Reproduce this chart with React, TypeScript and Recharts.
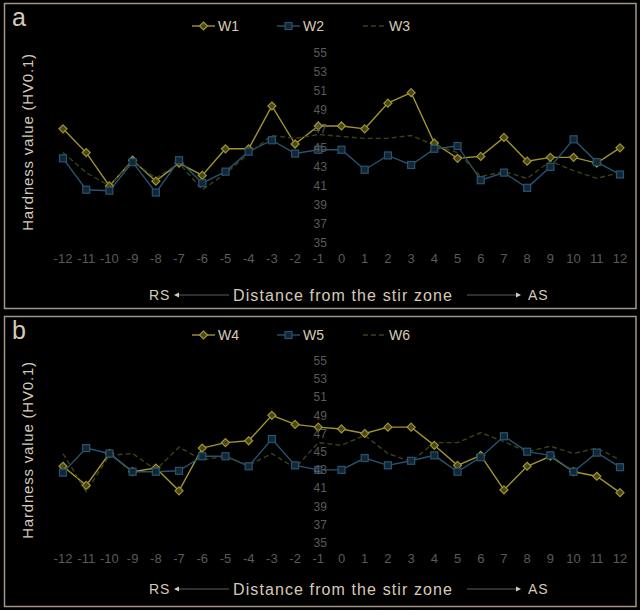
import React from 'react';
import { LineChart, Line, XAxis, YAxis, Legend } from 'recharts';

const positions = [-12, -11, -10, -9, -8, -7, -6, -5, -4, -3, -2, -1, 0, 1, 2, 3, 4, 5, 6, 7, 8, 9, 10, 11, 12];
const yTicks = [35, 37, 39, 41, 43, 45, 47, 49, 51, 53, 55];

const w1 = [47.0, 44.5, 41.0, 43.7, 41.5, 43.4, 42.1, 44.9, 44.9, 49.4, 45.4, 47.3, 47.3, 47.0, 49.7, 50.8, 45.5, 43.9, 44.1, 46.1, 43.6, 44.0, 44.0, 43.4, 45.0];
const w2 = [43.9, 40.6, 40.5, 43.5, 40.3, 43.7, 41.3, 42.5, 44.6, 45.8, 44.4, 44.8, 44.8, 42.7, 44.2, 43.2, 44.9, 45.2, 41.6, 42.4, 40.8, 43.0, 45.9, 43.5, 42.2];
const w3 = [44.5, 42.4, 41.0, 43.6, 41.8, 43.4, 40.6, 42.3, 44.4, 46.3, 46.0, 46.4, 46.2, 46.0, 46.0, 46.3, 45.3, 44.5, 42.0, 42.5, 41.8, 43.6, 42.6, 41.8, 42.4];

const w4 = [43.4, 41.3, 44.8, 42.8, 43.2, 40.7, 45.4, 46.0, 46.2, 49.0, 48.0, 47.7, 47.5, 47.0, 47.7, 47.7, 45.7, 43.5, 44.6, 40.8, 43.4, 44.5, 42.8, 42.3, 40.5];
const w5 = [42.7, 45.4, 44.8, 42.8, 42.8, 42.9, 44.5, 44.5, 43.4, 46.4, 43.5, 43.0, 43.0, 44.3, 43.5, 44.0, 44.6, 42.8, 44.4, 46.7, 45.0, 44.6, 42.8, 44.9, 43.3];
const w6 = [44.8, 40.6, 44.6, 44.8, 43.0, 45.5, 44.1, 44.5, 43.5, 44.8, 43.2, 46.0, 45.7, 46.8, 44.8, 43.9, 46.0, 46.0, 47.1, 46.1, 45.0, 45.6, 44.8, 45.4, 44.1];

const dataA = positions.map((p, i) => ({ pos: p, W1: w1[i], W2: w2[i], W3: w3[i] }));
const dataB = positions.map((p, i) => ({ pos: p, W4: w4[i], W5: w5[i], W6: w6[i] }));

const YELLOW = '#a0952f';
const BLUE = '#28536f';
const DARK = '#37431a';
const TEXT = '#d6cab9';
const TICK = '#5a5a5a';
const FONT = '"Liberation Sans", Arial, sans-serif';

const PLOT_LEFT = 51.4;
const PLOT_RIGHT = 8.4;
const PLOT_W = 640 - PLOT_LEFT - PLOT_RIGHT;
// vertical axis crosses between -1 and 0
const AXIS_X = PLOT_LEFT + PLOT_W * (12 / 25);

const Diamond = (props: any) => {
    const { cx, cy } = props;
    if (cx == null || cy == null) return null;
    return <path d={`M${cx},${cy - 4} L${cx + 4},${cy} L${cx},${cy + 4} L${cx - 4},${cy} Z`} fill="#4a4616" stroke={YELLOW} strokeWidth={1.2} />;
};

const Square = (props: any) => {
    const { cx, cy } = props;
    if (cx == null || cy == null) return null;
    return <rect x={cx - 3.5} y={cy - 3.5} width={7} height={7} fill="#132636" stroke={BLUE} strokeWidth={1.2} />;
};

const XTick = (props: any) => {
    const { x, y, payload } = props;
    return (
        <text x={x} y={y} dy={12} textAnchor="middle" fill={TICK} fontSize={13} fontFamily={FONT}>
            {payload.value}
        </text>
    );
};

const YTick = (props: any) => {
    const { y, payload } = props;
    return (
        <text x={AXIS_X - 3} y={y} dy="0.35em" textAnchor="end" fill={TICK} fontSize={12} fontFamily={FONT}>
            {payload.value}
        </text>
    );
};

const markerFor = (key: string, x: number) => {
    if (key === 'W1' || key === 'W4') {
        return <path d={`M${x},-4 L${x + 4},0 L${x},4 L${x - 4},0 Z`} fill="#4a4616" stroke={YELLOW} strokeWidth={1.2} />;
    }
    if (key === 'W2' || key === 'W5') {
        return <rect x={x - 3.5} y={-3.5} width={7} height={7} fill="#132636" stroke={BLUE} strokeWidth={1.2} />;
    }
    return null;
};

const legendX = [192, 277, 363];

const LegendRow = ({ payload }: any) => (
    <svg width={640} height={20} style={{ display: 'block' }}>
        {(payload || []).map((item: any, i: number) => {
            const x0 = legendX[i];
            const dashed = item.dataKey === 'W3' || item.dataKey === 'W6';
            return (
                <g key={item.dataKey} transform="translate(0,10)">
                    <line x1={x0} x2={x0 + 23} y1={0} y2={0} stroke={item.color} strokeWidth={1.4} strokeDasharray={dashed ? '5 3' : undefined} />
                    <g>{markerFor(item.dataKey, x0 + 11.5)}</g>
                    <text x={x0 + 26} y={0} dy="0.35em" fill={TEXT} fontSize={14} fontFamily={FONT}>
                        {item.value}
                    </text>
                </g>
            );
        })}
    </svg>
);

interface PanelProps {
    data: any[];
    keys: string[];
    height: number;
    plotTop: number;
    plotBottom: number;
    legendTop: number;
}

const Panel: React.FC<PanelProps> = ({ data, keys, height, plotTop, plotBottom, legendTop }) => (
    <LineChart
        width={640}
        height={height}
        data={data}
        margin={{ top: plotTop, right: PLOT_RIGHT, left: PLOT_LEFT - 1, bottom: height - plotBottom - 17 }}
    >
        <XAxis
            dataKey="pos"
            type="number"
            domain={[-12.5, 12.5]}
            ticks={positions}
            interval={0}
            height={17}
            axisLine={false}
            tickLine={false}
            tick={<XTick />}
        />
        <YAxis
            domain={[35, 55]}
            ticks={yTicks}
            interval={0}
            width={1}
            axisLine={false}
            tickLine={false}
            tick={<YTick />}
        />
        <Legend
            verticalAlign="middle"
            align="center"
            content={<LegendRow />}
            wrapperStyle={{ top: legendTop, left: 0, width: 640 }}
        />
        <Line
            dataKey={keys[0]}
            name={keys[0]}
            stroke={YELLOW}
            strokeWidth={1.4}
            dot={<Diamond />}
            isAnimationActive={false}
        />
        <Line
            dataKey={keys[1]}
            name={keys[1]}
            stroke={BLUE}
            strokeWidth={1.4}
            dot={<Square />}
            isAnimationActive={false}
        />
        <Line
            dataKey={keys[2]}
            name={keys[2]}
            stroke={DARK}
            strokeWidth={1.4}
            strokeDasharray="5 3"
            dot={false}
            isAnimationActive={false}
        />
    </LineChart>
);

const AxisTitles = ({ top, titleY, xTitleY, letter }: { top: number; titleY: number; xTitleY: number; letter: string }) => (
    <g transform={`translate(0,${top})`}>
        <text x={12} y={26} fill={TEXT} fontSize={25} fontFamily={FONT}>{letter}</text>
        <text
            transform={`translate(33,${titleY}) rotate(-90)`}
            textAnchor="middle"
            fill={TEXT}
            fontSize={15}
            letterSpacing={0.8}
            fontFamily={FONT}
        >
            Hardness value (HV0.1)
        </text>
        <text x={149} y={xTitleY} dy="0.35em" fill={TEXT} fontSize={14} letterSpacing={1} fontFamily={FONT}>RS</text>
        <path d={`M174,${xTitleY} L179,${xTitleY - 2.5} L179,${xTitleY + 2.5} Z`} fill={TEXT} />
        <line x1={179} x2={229} y1={xTitleY} y2={xTitleY} stroke="#777" strokeWidth={0.8} />
        <text x={233} y={xTitleY} dy="0.35em" fill={TEXT} fontSize={16} letterSpacing={1.1} fontFamily={FONT}>
            Distance from the stir zone
        </text>
        <line x1={467} x2={516} y1={xTitleY} y2={xTitleY} stroke="#777" strokeWidth={0.8} />
        <path d={`M521,${xTitleY} L516,${xTitleY - 2.5} L516,${xTitleY + 2.5} Z`} fill={TEXT} />
        <text x={528} y={xTitleY} dy="0.35em" fill={TEXT} fontSize={14} letterSpacing={1} fontFamily={FONT}>AS</text>
    </g>
);

export default function App() {
    return (
        <div style={{ position: 'absolute', left: 0, top: 0, width: 640, height: 610, background: '#000', overflow: 'hidden' }}>
            <div style={{ position: 'absolute', left: 0, top: 0 }}>
                <Panel data={dataA} keys={['W1', 'W2', 'W3']} height={312} plotTop={52.7} plotBottom={243} legendTop={16} />
            </div>
            <div style={{ position: 'absolute', left: 0, top: 314 }}>
                <Panel data={dataB} keys={['W4', 'W5', 'W6']} height={296} plotTop={46.7} plotBottom={228.7} legendTop={11} />
            </div>
            <svg width={640} height={610} style={{ position: 'absolute', left: 0, top: 0, pointerEvents: 'none' }}>
                <rect x={4.5} y={3.5} width={631.5} height={305} fill="none" stroke="#a39584" strokeWidth={1.5} />
                <rect x={4.5} y={316.5} width={631.5} height={290} fill="none" stroke="#a39584" strokeWidth={1.5} />
                <AxisTitles top={0} letter="a" titleY={142} xTitleY={295} />
                <AxisTitles top={313} letter="b" titleY={137} xTitleY={276} />
            </svg>
        </div>
    );
}
